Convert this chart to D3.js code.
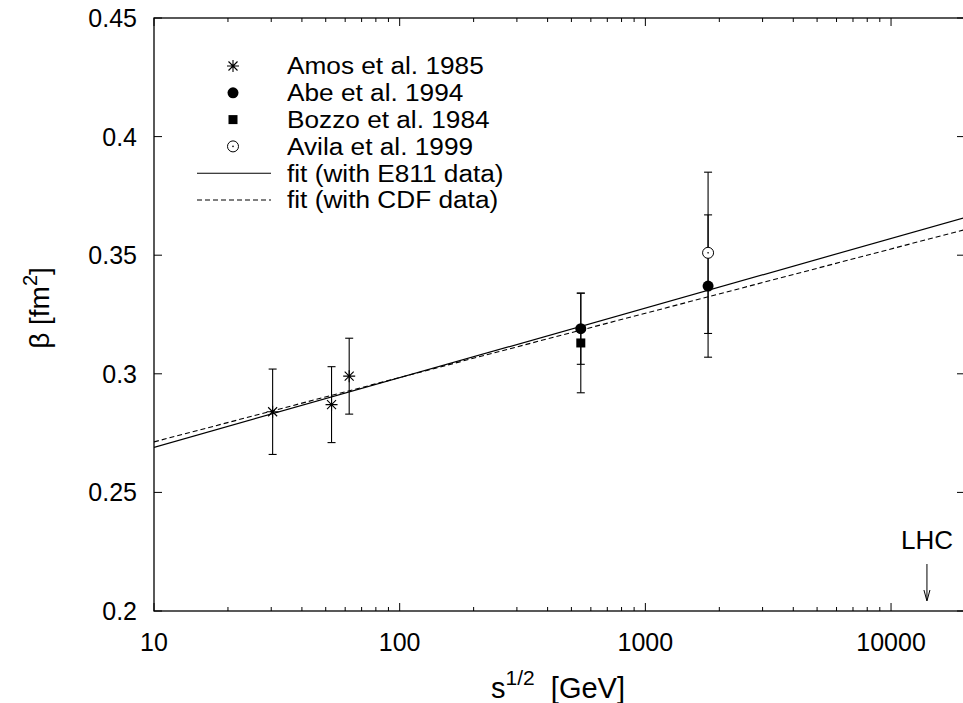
<!DOCTYPE html>
<html>
<head>
<meta charset="utf-8">
<script src="https://cdn.jsdelivr.net/npm/d3@7"></script>
<style>
  body { margin: 0; background: #fff; }
  text { font-family: "Liberation Sans", Arial, Helvetica, sans-serif; fill: #000; }
</style>
</head>
<body>
<div id="chart"></div>
<script>
// data: sqrt(s) in GeV, beta in fm^2, symmetric errors
const amos  = [{s: 30.4, beta: 0.284, err: 0.018}, {s: 52.8, beta: 0.287, err: 0.016}, {s: 62.3, beta: 0.299, err: 0.016}];
const abe   = [{s: 546, beta: 0.319, err: 0.015}, {s: 1800, beta: 0.337, err: 0.030}];
const bozzo = [{s: 546, beta: 0.313, err: 0.021}];
const avila = [{s: 1800, beta: 0.351, err: 0.034}];

// fits are straight in log(s), so two end points each
const fitE811 = [{s: 10, beta: 0.2690}, {s: 20000, beta: 0.3659}];
const fitCDF  = [{s: 10, beta: 0.2713}, {s: 20000, beta: 0.3608}];

const xTicks = [10, 100, 1000, 10000];
const yTicks = [0.2, 0.25, 0.3, 0.35, 0.4, 0.45];
const lhcEnergy = 14000;

const legendItems = [
  {label: "Amos et al. 1985", kind: "star"},
  {label: "Abe et al. 1994", kind: "dot"},
  {label: "Bozzo et al. 1984", kind: "square"},
  {label: "Avila et al. 1999", kind: "ring"},
  {label: "fit (with E811 data)", kind: "solid"},
  {label: "fit (with CDF data)", kind: "dashed"}
];

const width = 963, height = 703;
const mLeft = 154, mRight = 965, mTop = 18, mBottom = 611;

const svg = d3.select("#chart").append("svg")
    .attr("width", width)
    .attr("height", height);

const x = d3.scaleLog().domain([10, 20000]).range([mLeft, mRight]);
const y = d3.scaleLinear().domain([0.2, 0.45]).range([mBottom, mTop]);

// frame
svg.append("rect")
    .attr("x", mLeft).attr("y", mTop)
    .attr("width", mRight - mLeft).attr("height", mBottom - mTop)
    .attr("fill", "none").attr("stroke", "#000").attr("stroke-width", 1.3);

// x ticks, major and minor, bottom and top, inward
const minor = [];
for (let d = 10; d < 20000; d *= 10)
  for (let k = 2; k <= 9; k++) if (d * k <= 20000) minor.push(d * k);

const g = svg.append("g").attr("stroke", "#000").attr("stroke-width", 1);
xTicks.forEach(v => {
  g.append("line").attr("x1", x(v)).attr("x2", x(v)).attr("y1", mBottom).attr("y2", mBottom - 8);
  g.append("line").attr("x1", x(v)).attr("x2", x(v)).attr("y1", mTop).attr("y2", mTop + 8);
});
minor.forEach(v => {
  g.append("line").attr("x1", x(v)).attr("x2", x(v)).attr("y1", mBottom).attr("y2", mBottom - 4);
  g.append("line").attr("x1", x(v)).attr("x2", x(v)).attr("y1", mTop).attr("y2", mTop + 4);
});
yTicks.forEach(v => {
  g.append("line").attr("x1", mLeft).attr("x2", mLeft + 8).attr("y1", y(v)).attr("y2", y(v));
  g.append("line").attr("x1", mRight).attr("x2", mRight - 8).attr("y1", y(v)).attr("y2", y(v));
});

// tick labels
svg.append("g").selectAll("text").data(yTicks).join("text")
    .attr("x", 137).attr("y", d => y(d)).attr("dy", "0.36em")
    .attr("text-anchor", "end").attr("font-size", 25)
    .text(d => d3.format("")(d));

svg.append("g").selectAll("text").data(xTicks).join("text")
    .attr("x", d => x(d)).attr("y", 651)
    .attr("text-anchor", "middle").attr("font-size", 25)
    .text(d => d);

// axis titles
const xt = svg.append("text").attr("x", 558).attr("y", 698)
    .attr("text-anchor", "middle").attr("font-size", 29);
xt.append("tspan").text("s");
xt.append("tspan").attr("font-size", 21).attr("dy", -13).text("1/2");
xt.append("tspan").attr("dy", 13).text("\u00a0 [GeV]");

const yt = svg.append("text")
    .attr("transform", "translate(49,308) rotate(-90)")
    .attr("text-anchor", "middle").attr("font-size", 28);
yt.append("tspan").text("\u03b2 [fm");
yt.append("tspan").attr("font-size", 20).attr("dy", -12).text("2");
yt.append("tspan").attr("dy", 12).text("]");

// clip for the plot area
svg.append("clipPath").attr("id", "clip")
  .append("rect").attr("x", mLeft).attr("y", mTop).attr("width", mRight - mLeft).attr("height", mBottom - mTop);
const plot = svg.append("g").attr("clip-path", "url(#clip)");

const line = d3.line().x(d => x(d.s)).y(d => y(d.beta));
plot.append("path").datum(fitE811).attr("d", line)
    .attr("fill", "none").attr("stroke", "#000").attr("stroke-width", 1.2);
plot.append("path").datum(fitCDF).attr("d", line)
    .attr("fill", "none").attr("stroke", "#000").attr("stroke-width", 1.1)
    .attr("stroke-dasharray", "5,3");

// error bars
function errorBars(data) {
  const eg = plot.append("g").attr("stroke", "#000").attr("stroke-width", 1.1);
  data.forEach(d => {
    const cx = x(d.s), y1 = y(d.beta - d.err), y2 = y(d.beta + d.err);
    eg.append("line").attr("x1", cx).attr("x2", cx).attr("y1", y1).attr("y2", y2);
    eg.append("line").attr("x1", cx - 4).attr("x2", cx + 4).attr("y1", y1).attr("y2", y1);
    eg.append("line").attr("x1", cx - 4).attr("x2", cx + 4).attr("y1", y2).attr("y2", y2);
  });
}
[amos, abe, bozzo, avila].forEach(errorBars);

// markers
function marker(sel, kind, cx, cy) {
  if (kind === "star") {
    const r = 6, q = 4.5;
    const p = `M${cx - r},${cy}L${cx + r},${cy}M${cx},${cy - r}L${cx},${cy + r}` +
              `M${cx - q},${cy - q}L${cx + q},${cy + q}M${cx - q},${cy + q}L${cx + q},${cy - q}`;
    sel.append("path").attr("d", p).attr("stroke", "#000").attr("stroke-width", 1.1).attr("fill", "none");
  } else if (kind === "dot") {
    sel.append("circle").attr("cx", cx).attr("cy", cy).attr("r", 5.5).attr("fill", "#000");
  } else if (kind === "square") {
    sel.append("rect").attr("x", cx - 4.5).attr("y", cy - 4.5).attr("width", 9).attr("height", 9).attr("fill", "#000");
  } else if (kind === "ring") {
    sel.append("circle").attr("cx", cx).attr("cy", cy).attr("r", 5.5)
        .attr("fill", "#fff").attr("stroke", "#000").attr("stroke-width", 1);
    sel.append("circle").attr("cx", cx).attr("cy", cy).attr("r", 0.8).attr("fill", "#000");
  }
}
amos.forEach(d => marker(plot, "star", x(d.s), y(d.beta)));
abe.forEach(d => marker(plot, "dot", x(d.s), y(d.beta)));
bozzo.forEach(d => marker(plot, "square", x(d.s), y(d.beta)));
avila.forEach(d => marker(plot, "ring", x(d.s), y(d.beta)));

// legend (gnuplot's font is a bit wider than Liberation, so stretch it sideways)
const leg = svg.append("g");
legendItems.forEach((it, i) => {
  const ly = 66 + i * 26.8;
  if (it.kind === "solid" || it.kind === "dashed") {
    leg.append("line").attr("x1", 197).attr("x2", 271).attr("y1", ly).attr("y2", ly)
        .attr("stroke", "#000").attr("stroke-width", 1.1)
        .attr("stroke-dasharray", it.kind === "dashed" ? "5,3" : null);
  } else {
    marker(leg, it.kind, 233, ly);
  }
  leg.append("text")
      .attr("transform", `translate(287,${ly}) scale(1.13,1)`)
      .attr("dy", "0.36em")
      .attr("font-size", 23.2).text(it.label);
});

// LHC marker
svg.append("text").attr("x", x(lhcEnergy)).attr("y", 549)
    .attr("text-anchor", "middle").attr("font-size", 26).text("LHC");
svg.append("line").attr("x1", x(lhcEnergy)).attr("x2", x(lhcEnergy)).attr("y1", 564).attr("y2", 600)
    .attr("stroke", "#000").attr("stroke-width", 1);
svg.append("path")
    .attr("d", `M${x(lhcEnergy) - 3},${590}L${x(lhcEnergy)},${601}L${x(lhcEnergy) + 3},${590}`)
    .attr("fill", "none").attr("stroke", "#000").attr("stroke-width", 1);
</script>
</body>
</html>
